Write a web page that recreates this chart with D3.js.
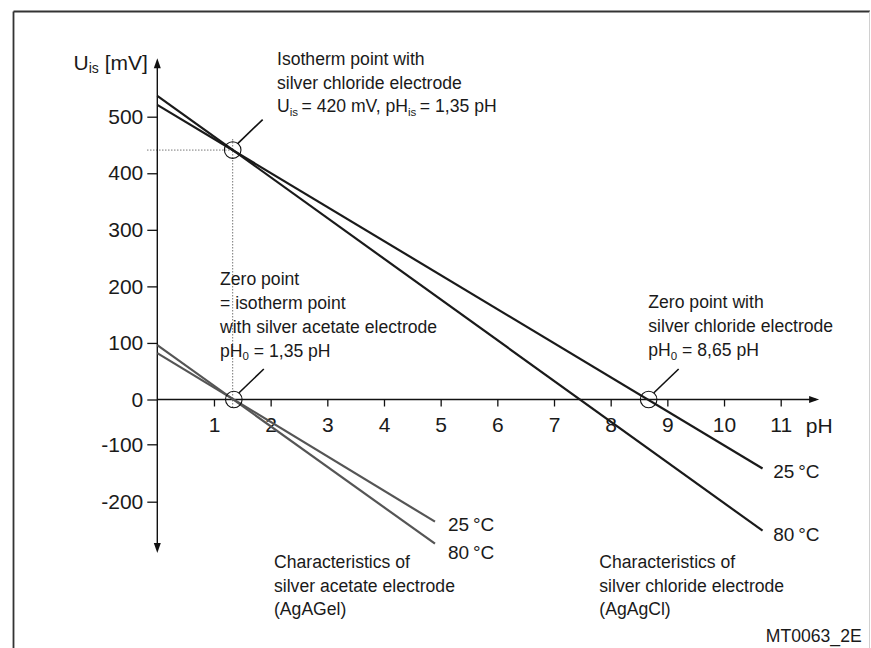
<!DOCTYPE html>
<html><head><meta charset="utf-8">
<script src="https://cdn.jsdelivr.net/npm/d3@7"></script>
<style>
body{margin:0;background:#fff}
svg{display:block}
text{font-family:"Liberation Sans",Arial,sans-serif;fill:#1a1a1a}
</style>
</head><body><svg id="c" width="871" height="648"></svg>
<script>
// ---- data ----
const xTicks = [1,2,3,4,5,6,7,8,9,10,11];
const yTicks = [-200,-100,0,100,200,300,400,500];
const chloridePH = [0, 10.68];
const chloride25 = [521, -122];
const chloride80 = [537, -232];
const acetatePH = [0, 4.9];
const acetate25 = [82, -216];
const acetate80 = [96, -255];
const markerPH = [1.33, 1.35, 8.67];
const markerU  = [441, 0, 0];
const tempLabels = ["25\u2009°C", "80\u2009°C"];

const svg = d3.select("#c");
const x = d3.scaleLinear().domain([0, 11]).range([157.3, 780.7]);
const y = d3.scaleLinear().domain([0, 500]).range([399.5, 116.7]);
// axis tick placement as printed in the original figure (negative side compressed)
const yAxisScale = d3.scaleLinear().domain([-200, -100, 0, 500]).range([501.7, 444.3, 399.5, 116.7]);

// frame
svg.append("line").attr("x1",13.5).attr("y1",11.5).attr("x2",870).attr("y2",11.5).attr("stroke","#333").attr("stroke-width",1.8);
svg.append("line").attr("x1",13.5).attr("y1",11.5).attr("x2",13.5).attr("y2",648).attr("stroke","#333").attr("stroke-width",1.8);
svg.append("line").attr("x1",869.5).attr("y1",11.5).attr("x2",869.5).attr("y2",648).attr("stroke","#d0d0d0").attr("stroke-width",1);

// dotted guides for isotherm point
const g0 = svg.append("g").attr("stroke","#777").attr("stroke-width",1).attr("stroke-dasharray","1.5,1.5");
g0.append("line").attr("x1",147).attr("x2",x(markerPH[0])).attr("y1",y(markerU[0])).attr("y2",y(markerU[0]));
g0.append("line").attr("x1",x(markerPH[0])).attr("x2",x(markerPH[0])).attr("y1",139).attr("y2",408);

// axes
const ax = svg.append("g");
ax.append("line").attr("x1",x(0)).attr("x2",x(11.62)).attr("y1",y(0)).attr("y2",y(0)).attr("stroke","#111").attr("stroke-width",1.4);
ax.append("path").attr("d",`M${x(11.66)+1},${y(0)} l-10,-3.5 l0,7 z`).attr("fill","#111");
ax.append("line").attr("x1",x(0)).attr("x2",x(0)).attr("y1",y(600)+4).attr("y2",y(-268)-4).attr("stroke","#111").attr("stroke-width",1.4);
ax.append("path").attr("d",`M${x(0)},${y(600)-2} l-3.5,10 l7,0 z`).attr("fill","#111");
ax.append("path").attr("d",`M${x(0)},${y(-268)+2} l-3.5,-10 l7,0 z`).attr("fill","#111");

const xAxis = svg.append("g").attr("transform",`translate(0,${y(0)})`)
  .call(d3.axisBottom(x).tickValues(xTicks).tickSize(7).tickFormat(d=>String(d)));
xAxis.select(".domain").remove();
xAxis.selectAll("line").attr("stroke","#111").attr("stroke-width",1.3);
xAxis.selectAll("text").attr("y",32.5).attr("dy",null).attr("font-size",21).attr("fill","#1a1a1a")
  .style("font-family",'"Liberation Sans",Arial,sans-serif');

const yAxis = svg.append("g").attr("transform",`translate(${x(0)},0)`)
  .call(d3.axisLeft(yAxisScale).tickValues(yTicks).tickSize(10).tickPadding(4).tickFormat(d=>String(d)));
yAxis.select(".domain").remove();
yAxis.selectAll("line").attr("stroke","#111").attr("stroke-width",1.3);
yAxis.selectAll("text").attr("font-size",21).attr("fill","#1a1a1a")
  .style("font-family",'"Liberation Sans",Arial,sans-serif');

svg.append("text").attr("x",x(11.62)-10).attr("y",432.5).attr("font-size",21).text("pH");
const yl = svg.append("text").attr("x",73.5).attr("y",70).attr("font-size",21);
yl.append("tspan").text("U");
yl.append("tspan").attr("font-size",14).attr("dy",3).text("is");
yl.append("tspan").attr("dy",-3).text(" [mV]");

// characteristic lines
const line = d3.line().x(d=>x(d[0])).y(d=>y(d[1]));
const series = [
  {ph: acetatePH, u: acetate25, color:"#555"},
  {ph: acetatePH, u: acetate80, color:"#555"},
  {ph: chloridePH, u: chloride25, color:"#1a1a1a"},
  {ph: chloridePH, u: chloride80, color:"#1a1a1a"}
];
svg.append("g").selectAll("path").data(series).join("path")
  .attr("d",s=>line(s.ph.map((p,i)=>[p,s.u[i]])))
  .attr("fill","none").attr("stroke",s=>s.color).attr("stroke-width",2.2);

// marker circles and leaders
const mk = markerPH.map((p,i)=>({px:x(p), py:y(markerU[i])}));
svg.append("g").selectAll("circle").data(mk).join("circle")
  .attr("cx",d=>d.px).attr("cy",d=>d.py).attr("r",8.3)
  .attr("fill","none").attr("stroke","#111").attr("stroke-width",1.1);
svg.append("g").selectAll("line").data(mk).join("line")
  .attr("x1",d=>d.px+5).attr("y1",d=>d.py-6.5).attr("x2",d=>d.px+30).attr("y2",d=>d.py-30.5)
  .attr("stroke","#111").attr("stroke-width",1.6);

// annotations
const fs = 17.6;
function block(x0, lines){
  lines.forEach(([yb, parts])=>{
    const t = svg.append("text").attr("x",x0).attr("y",yb).attr("font-size",fs);
    let sub=false;
    parts.forEach(p=>{
      if (typeof p === "string"){
        t.append("tspan").attr("dy", sub? -3.5 : 0).text(p); sub=false;
      } else {
        t.append("tspan").attr("font-size",11.5).attr("dy", 3.5).text(p.sub); sub=true;
      }
    });
  });
}
block(277, [
  [65, ["Isotherm point with"]],
  [88.5, ["silver chloride electrode"]],
  [112, ["U", {sub:"is"}, "\u2009= 420 mV, pH", {sub:"is"}, "\u2009= 1,35 pH"]]
]);
block(220, [
  [285, ["Zero point"]],
  [309, ["= isotherm point"]],
  [333, ["with silver acetate electrode"]],
  [356.5, ["pH", {sub:"0"}, " = 1,35 pH"]]
]);
block(648.3, [
  [308.3, ["Zero point with"]],
  [332, ["silver chloride electrode"]],
  [356, ["pH", {sub:"0"}, " = 8,65 pH"]]
]);
block(274, [
  [568.3, ["Characteristics of"]],
  [591.7, ["silver acetate electrode"]],
  [615, ["(AgAGel)"]]
]);
block(599.3, [
  [568.3, ["Characteristics of"]],
  [591.7, ["silver chloride electrode"]],
  [615, ["(AgAgCl)"]]
]);
const tfs = 19;
svg.append("text").attr("x",448).attr("y",530.7).attr("font-size",tfs).text(tempLabels[0]);
svg.append("text").attr("x",448).attr("y",559.3).attr("font-size",tfs).text(tempLabels[1]);
svg.append("text").attr("x",773.3).attr("y",478.3).attr("font-size",tfs).text(tempLabels[0]);
svg.append("text").attr("x",773.3).attr("y",540.7).attr("font-size",tfs).text(tempLabels[1]);
svg.append("text").attr("x",861.7).attr("y",641.7).attr("text-anchor","end").attr("font-size",fs).text("MT0063_2E");
</script>
</body></html>
